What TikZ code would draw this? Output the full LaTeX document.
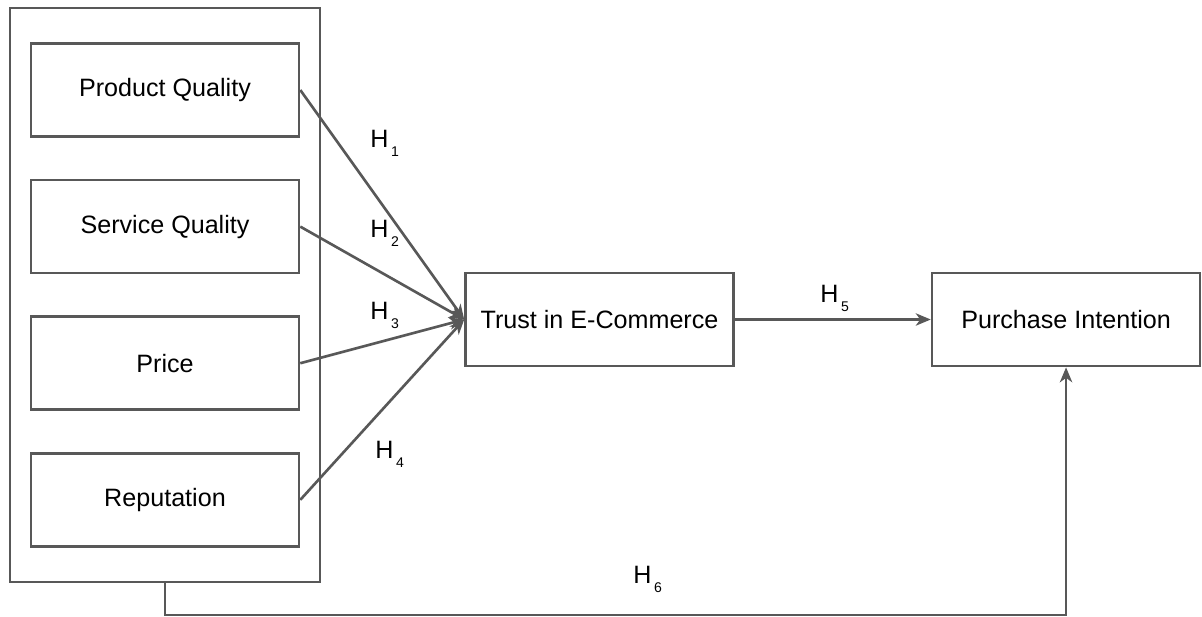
\documentclass[tikz,border=0pt]{standalone}
\usepackage{fontspec}
\setmainfont{Liberation Sans}
\usetikzlibrary{shapes}
\usetikzlibrary{arrows.meta}
\usetikzlibrary{positioning}
\definecolor{trait}{RGB}{88,88,88}
\newcommand{\hyp}[1]{H\kern1.5pt\raisebox{-5.5pt}{\fontsize{8}{8}\selectfont #1}}

\begin{document}
\begin{tikzpicture}[x=0.02cm,y=-0.02cm]
\tikzstyle{lien}=[->,>={Stealth[length=8.5pt,width=7pt,inset=2.5pt]},draw=trait,line width=1.5pt]
\tikzset{bloc/.style={draw=trait,line width=1.5pt,minimum width=#1,minimum height=1.86cm,inner sep=0pt,font=\fontsize{14.3}{17}\selectfont},
bloc/.default={5.36cm},
hlabel/.style={anchor=base west,inner sep=0pt,font=\fontsize{14.3}{17}\selectfont}}
\useasboundingbox (0,0) rectangle (1202,616);
\node [bloc=6.2cm,minimum height=11.48cm] (groupe) at (165,295) {};
\node [bloc] (qualprod) at (165,90) {Product Quality};
\node [bloc,below=0.82cm of qualprod] (qualserv) {Service Quality};
\node [bloc,below=0.82cm of qualserv] (prix) {Price};
\node [bloc,below=0.82cm of prix] (reput) {Reputation};
\node [bloc] (confiance) at (599.5,319.5) {Trust in E-Commerce};
\node [bloc,right=3.92cm of confiance] (achat) {Purchase Intention};
\draw [lien] (qualprod.east) -- (confiance.west);
\draw [lien] (qualserv.east) -- (confiance.west);
\draw [lien] (prix.east) -- (confiance.west);
\draw [lien] (reput.east) -- (confiance.west);
\draw [lien] (confiance) -- (achat);
\coordinate (bas) at (165,615);
\draw [lien] (groupe.south) -- (bas) -| (achat.south);
\node [hlabel] (h1) at (370,147) {\hyp{1}};
\node [hlabel] (h2) at (370,237) {\hyp{2}};
\node [hlabel] (h3) at (370,319) {\hyp{3}};
\node [hlabel] (h4) at (375,458) {\hyp{4}};
\node [hlabel] (h5) at (820,302) {\hyp{5}};
\node [hlabel] (h6) at (633,583) {\hyp{6}};
\end{tikzpicture}
\end{document}
